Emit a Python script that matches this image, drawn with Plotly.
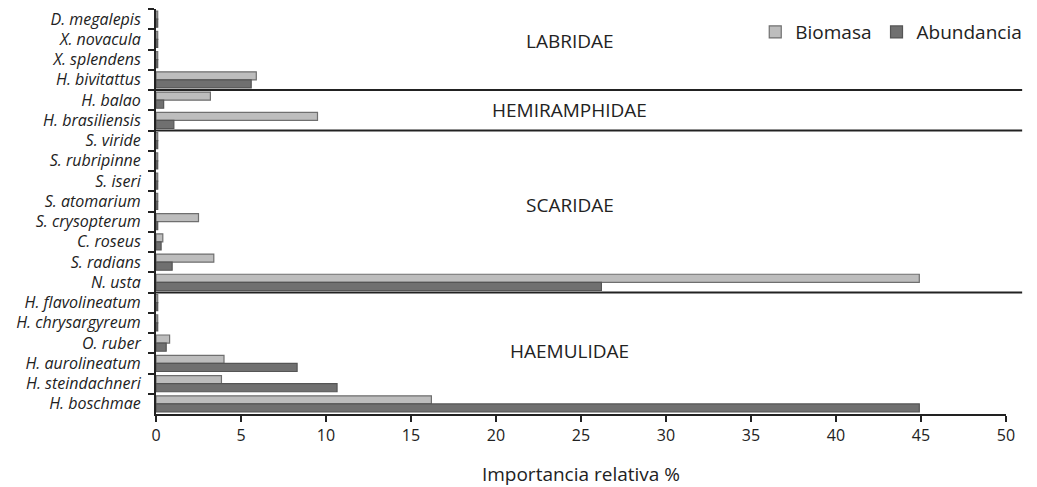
import plotly.graph_objects as go

species = ["D. megalepis", "X. novacula", "X. splendens", "H. bivitattus",
           "H. balao", "H. brasiliensis",
           "S. viride", "S. rubripinne", "S. iseri", "S. atomarium", "S. crysopterum",
           "C. roseus", "S. radians", "N. usta",
           "H. flavolineatum", "H. chrysargyreum", "O. ruber", "H. aurolineatum",
           "H. steindachneri", "H. boschmae"]
biomasa = [0.1, 0.1, 0.1, 5.9,
           3.2, 9.5,
           0.1, 0.1, 0.1, 0.1, 2.5,
           0.4, 3.4, 44.9,
           0.1, 0.1, 0.8, 4.0,
           3.85, 16.2]
abundancia = [0.1, 0.1, 0.1, 5.6,
              0.45, 1.05,
              0.1, 0.1, 0.1, 0.1, 0.1,
              0.3, 0.95, 26.2,
              0.1, 0.1, 0.6, 8.3,
              10.65, 44.9]
families = ["LABRIDAE", "HEMIRAMPHIDAE", "SCARIDAE", "HAEMULIDAE"]
family_label_pos = [1.1, 4.5, 9.2, 16.4]
separators = [3.5, 5.5, 13.5]

FONT = "Open Sans"
TXT = "#222222"

fig = go.Figure()
fig.add_trace(go.Bar(y=species, x=biomasa, orientation="h", name="Biomasa",
                     marker=dict(color="#bdbdbd", line=dict(color="#6f6f6f", width=1.2))))
fig.add_trace(go.Bar(y=species, x=abundancia, orientation="h", name="Abundancia",
                     marker=dict(color="#707070", line=dict(color="#555555", width=1.2))))

for s in separators:
    fig.add_shape(type="line", xref="paper", yref="y", x0=0, x1=1.019, y0=s, y1=s,
                  line=dict(color=TXT, width=2))

for name, pos in zip(families, family_label_pos):
    fig.add_annotation(x=24.35, y=pos, xref="x", yref="y", text=name, showarrow=False,
                       font=dict(family=FONT, size=19, color=TXT))

fig.update_layout(
    width=1037, height=487,
    margin=dict(l=148, r=39, t=1, b=81, autoexpand=False),
    paper_bgcolor="white", plot_bgcolor="white",
    barmode="group", bargap=0.2, bargroupgap=0.0,
    font=dict(family=FONT, size=16, color=TXT),
    showlegend=True,
    legend=dict(orientation="h", x=1.025, xanchor="right", y=0.99, yanchor="top",
                font=dict(family=FONT, size=19, color=TXT),
                bgcolor="rgba(0,0,0,0)", itemwidth=30, tracegroupgap=0),
    xaxis=dict(range=[0, 50], dtick=5, tick0=0, showgrid=False, zeroline=False,
               showline=True, linecolor=TXT, linewidth=2, automargin=False,
               ticks="outside", ticklen=6, tickwidth=1.5, tickcolor=TXT,
               tickfont=dict(family=FONT, size=16, color=TXT),
               title=dict(text="Importancia relativa %", standoff=22,
                          font=dict(family=FONT, size=19, color=TXT))),
    yaxis=dict(autorange="reversed", type="category", showgrid=False,
               showline=True, linecolor=TXT, linewidth=2, automargin=False,
               ticks="outside", ticklen=6, tickwidth=1.5, tickcolor=TXT,
               tickson="boundaries", ticklabelstandoff=10,
               tickfont=dict(family=FONT, size=16, color=TXT, style="italic")),
)

fig.write_html("out.html")
